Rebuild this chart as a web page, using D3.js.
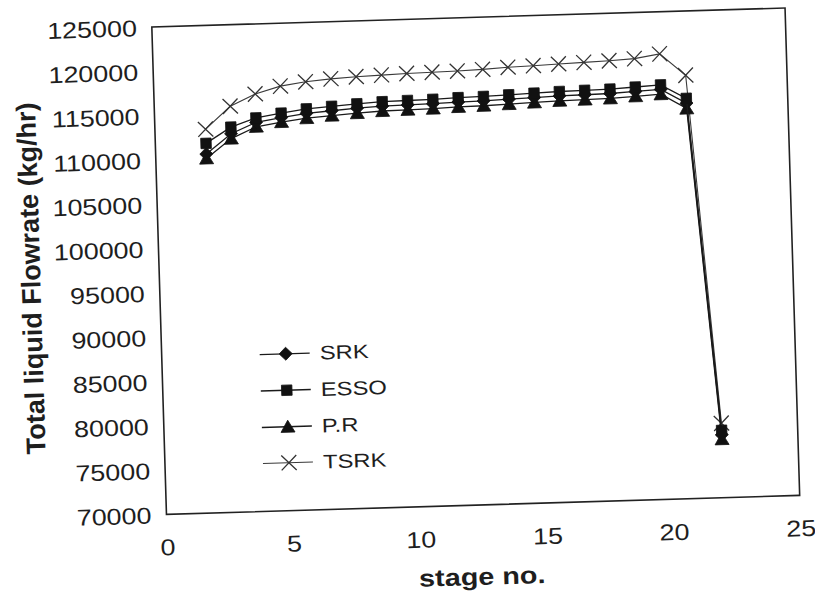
<!DOCTYPE html>
<html>
<head>
<meta charset="utf-8">
<script src="https://cdn.jsdelivr.net/npm/d3@7"></script>
<style>
  body { margin: 0; background: #fff; }
  text { font-family: "Liberation Sans", Arial, sans-serif; fill: #1e1e1e; }
</style>
</head>
<body>
<svg id="chart" width="815" height="603"></svg>
<script>
// Liquid flowrate profile along the column, one series per equation of state
const stages = [2, 3, 4, 5, 6, 7, 8, 9, 10, 11, 12, 13, 14, 15, 16, 17, 18, 19, 20, 21, 22];
const srk  = [110500, 112700, 113900, 114350, 114750, 114950, 115150, 115300, 115350, 115400, 115500,
              115550, 115650, 115750, 115850, 115900, 115950, 116100, 116250, 114600, 77100];
const esso = [111700, 113450, 114400, 114850, 115250, 115450, 115650, 115800, 115850, 115900, 116000,
              116050, 116150, 116250, 116350, 116400, 116450, 116600, 116750, 115150, 77600];
const pr   = [110000, 112150, 113400, 113850, 114200, 114400, 114600, 114750, 114800, 114850, 114950,
              115000, 115100, 115200, 115300, 115350, 115400, 115550, 115700, 114000, 76600];
const tsrk = [113300, 115800, 117100, 117900, 118300, 118550, 118700, 118800, 118900, 118950, 119000,
              119100, 119250, 119350, 119450, 119550, 119650, 119800, 120250, 117750, 78400];

const seriesNames = ["SRK", "ESSO", "P.R", "TSRK"];
const seriesMarkers = ["diamond", "square", "triangle", "cross"];
const xTicks = [0, 5, 10, 15, 20, 25];
const yTicks = [70000, 75000, 80000, 85000, 90000, 95000, 100000, 105000, 110000, 115000, 120000, 125000];

const seriesValues = [srk, esso, pr, tsrk];

const W = 815, H = 603;
const plot = { left: 159, right: 792.5, top: 17.4, bottom: 505 };
const tilt = -1.72;
const cx = (plot.left + plot.right) / 2, cy = (plot.top + plot.bottom) / 2;

const svg = d3.select("#chart");
svg.append("rect").attr("width", W).attr("height", H).attr("fill", "#fff");

const root = svg.append("g").attr("transform", `rotate(${tilt}, ${cx}, ${cy})`);

const x = d3.scaleLinear().domain([0, 25]).range([plot.left, plot.right]);
const y = d3.scaleLinear().domain([70000, 125000]).range([plot.bottom, plot.top]);

// frame
root.append("rect")
  .attr("x", plot.left).attr("y", plot.top)
  .attr("width", plot.right - plot.left).attr("height", plot.bottom - plot.top)
  .attr("fill", "none").attr("stroke", "#222").attr("stroke-width", 1.6);

// axes: labels only, no tick marks
const yAxis = root.append("g")
  .attr("transform", `translate(${plot.left},0)`)
  .call(d3.axisLeft(y).tickValues(yTicks).tickSize(0).tickFormat(d3.format("d")));
yAxis.select(".domain").remove();
yAxis.selectAll("text")
  .attr("x", null).attr("dy", null)
  .attr("dominant-baseline", "central")
  .attr("text-anchor", "end")
  .attr("transform", "translate(-15,0) scale(1.17,1)")
  .style("font-size", "23px")
  .style("font-family", "'Liberation Sans', Arial, sans-serif")
  .attr("fill", "#1e1e1e");

const xAxis = root.append("g")
  .attr("transform", `translate(0,${plot.bottom})`)
  .call(d3.axisBottom(x).tickValues(xTicks).tickSize(0).tickFormat(d3.format("d")));
xAxis.select(".domain").remove();
xAxis.selectAll("text")
  .attr("y", null).attr("dy", null)
  .attr("text-anchor", "middle")
  .attr("transform", "translate(0,41) scale(1.17,1)")
  .style("font-size", "23px")
  .style("font-family", "'Liberation Sans', Arial, sans-serif")
  .attr("fill", "#1e1e1e");

// axis titles
root.append("text")
  .attr("transform", `translate(${(plot.left + plot.right) / 2 - 3},${plot.bottom + 80}) scale(1.2,1)`)
  .attr("text-anchor", "middle")
  .style("font-size", "24px").style("font-weight", "bold")
  .text("stage no.");

root.append("text")
  .attr("transform", `translate(${plot.left - 128},${plot.bottom - 240}) rotate(-90)`)
  .attr("text-anchor", "middle")
  .attr("dominant-baseline", "central")
  .style("font-size", "27px").style("font-weight", "bold")
  .text("Total liquid Flowrate (kg/hr)");

// marker shapes
function markerPath(kind) {
  switch (kind) {
    case "diamond": return "M0,-6.5L6.5,0L0,6.5L-6.5,0Z";
    case "square": return "M-5.2,-5.2H5.2V5.2H-5.2Z";
    case "triangle": return "M0,-6.5L7,5.5H-7Z";
    default: return "M-7.5,-7.5L7.5,7.5M-7.5,7.5L7.5,-7.5";
  }
}
function styleMarker(sel, kind) {
  if (kind === "cross") {
    sel.attr("fill", "none").attr("stroke", "#333").attr("stroke-width", 1.3);
  } else {
    sel.attr("fill", "#111").attr("stroke", "#111").attr("stroke-width", 0.8);
  }
}

const line = d3.line().x((d, i) => x(stages[i])).y(d => y(d));

// draw series: TSRK first so the filled markers sit on top
const order = [3, 2, 0, 1];
order.forEach(k => {
  const vals = seriesValues[k];
  const kind = seriesMarkers[k];
  const g = root.append("g");
  g.append("path")
    .attr("d", line(vals))
    .attr("fill", "none")
    .attr("stroke", kind === "cross" ? "#3a3a3a" : "#1a1a1a")
    .attr("stroke-width", kind === "cross" ? 1.1 : 1.3);
  g.selectAll("path.m").data(vals).join("path")
    .attr("class", "m")
    .attr("transform", (d, i) => `translate(${x(stages[i])},${y(d)})`)
    .attr("d", markerPath(kind))
    .call(styleMarker, kind);
});

// legend
const legend = root.append("g").attr("transform", `translate(${plot.left},${plot.bottom})`);
const rowV = [157, 120.5, 84, 48];
seriesNames.forEach((name, k) => {
  const row = legend.append("g").attr("transform", `translate(0,${-rowV[k]})`);
  const kind = seriesMarkers[k];
  row.append("line")
    .attr("x1", 98).attr("x2", 148).attr("y1", 0).attr("y2", 0)
    .attr("stroke", kind === "cross" ? "#3a3a3a" : "#1a1a1a")
    .attr("stroke-width", kind === "cross" ? 1.1 : 1.3);
  row.append("path")
    .attr("transform", "translate(124,0)")
    .attr("d", markerPath(kind))
    .call(styleMarker, kind);
  row.append("text")
    .attr("transform", "translate(158,0) scale(1.22,1)")
    .attr("dominant-baseline", "central")
    .style("font-size", "19.5px")
    .text(name);
});
</script>
</body>
</html>
